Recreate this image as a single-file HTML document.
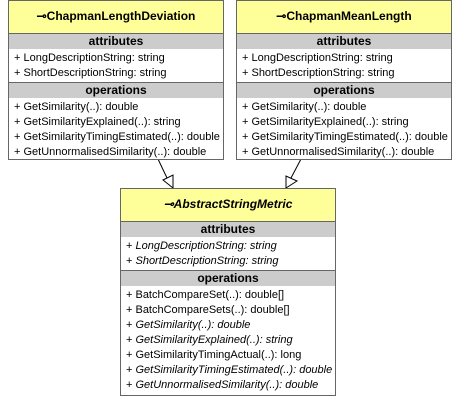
<!DOCTYPE html><html><head><style>
body{margin:0;width:461px;height:405px;background:#fff;font-family:"Liberation Sans",sans-serif;font-size:11px;color:#000;position:relative;overflow:hidden}
.b{position:absolute;border:1px solid #666;background:#fff;box-sizing:border-box}
.h{background:#ffff99;font-weight:bold;font-size:12px;text-align:center;border-bottom:1px solid #666;box-sizing:border-box;line-height:31px}
.s{background:#cccccc;font-weight:bold;font-size:12px;text-align:center;height:15px;line-height:15px}
.r{height:15px;line-height:15px;padding-left:5px;white-space:nowrap;overflow:hidden}
.l{padding:2px 0 1px;border-bottom:1px solid #666}
.l:last-child{border-bottom:none}
i{font-style:italic}
</style></head><body>
<svg width="461" height="405" style="position:absolute;left:0;top:0">
<line x1="158" y1="159" x2="167" y2="178" stroke="#000"/>
<polygon points="163,180 173,175 173,188" fill="#fff" stroke="#000"/>
<line x1="301" y1="159" x2="291" y2="178" stroke="#000"/>
<polygon points="286,176 286,188 297,181" fill="#fff" stroke="#000"/>
</svg>
<div class="b" style="left:8px;top:0;width:216px;height:160px">
<div class="h" style="height:33px">⊸ChapmanLengthDeviation</div>
<div class="s">attributes</div>
<div class="l"><div class="r">+ LongDescriptionString: string</div><div class="r">+ ShortDescriptionString: string</div></div>
<div class="s">operations</div>
<div class="l"><div class="r">+ GetSimilarity(..): double</div><div class="r">+ GetSimilarityExplained(..): string</div><div class="r">+ GetSimilarityTimingEstimated(..): double</div><div class="r">+ GetUnnormalisedSimilarity(..): double</div></div>
</div>
<div class="b" style="left:236px;top:0;width:216px;height:160px">
<div class="h" style="height:33px">⊸ChapmanMeanLength</div>
<div class="s">attributes</div>
<div class="l"><div class="r">+ LongDescriptionString: string</div><div class="r">+ ShortDescriptionString: string</div></div>
<div class="s">operations</div>
<div class="l"><div class="r">+ GetSimilarity(..): double</div><div class="r">+ GetSimilarityExplained(..): string</div><div class="r">+ GetSimilarityTimingEstimated(..): double</div><div class="r">+ GetUnnormalisedSimilarity(..): double</div></div>
</div>
<div class="b" style="left:120px;top:188px;width:216px;height:208px">
<div class="h" style="height:33px"><i>⊸AbstractStringMetric</i></div>
<div class="s">attributes</div>
<div class="l"><div class="r">+ <i>LongDescriptionString: string</i></div><div class="r">+ <i>ShortDescriptionString: string</i></div></div>
<div class="s">operations</div>
<div class="l"><div class="r">+ BatchCompareSet(..): double[]</div><div class="r">+ BatchCompareSets(..): double[]</div><div class="r">+ <i>GetSimilarity(..): double</i></div><div class="r">+ <i>GetSimilarityExplained(..): string</i></div><div class="r">+ GetSimilarityTimingActual(..): long</div><div class="r">+ <i>GetSimilarityTimingEstimated(..): double</i></div><div class="r">+ <i>GetUnnormalisedSimilarity(..): double</i></div></div>
</div>
</body></html>
